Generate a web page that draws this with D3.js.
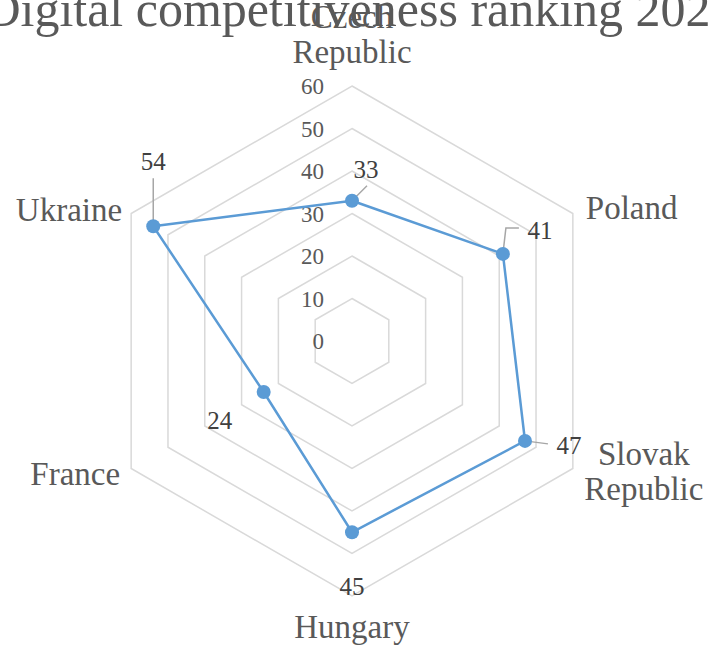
<!DOCTYPE html>
<html>
<head>
<meta charset="utf-8">
<script src="https://cdn.jsdelivr.net/npm/d3@7"></script>
<style>
  body { margin: 0; background: #fff; }
  svg text { font-family: "Liberation Serif", "DejaVu Serif", serif; }
</style>
</head>
<body>
<div id="chart"></div>
<script>
// chart data
var title = 'Digital competitiveness ranking 2021';
var categories = ['Czech Republic', 'Poland', 'Slovak Republic', 'Hungary', 'France', 'Ukraine'];
var values = [33, 41, 47, 45, 24, 54];
var ticks = [0, 10, 20, 30, 40, 50, 60];

var width = 709, height = 645;
var cx = 352, cy = 341;

// category label placement relative to outer vertex
var catLayout = [
    { lines: ['Czech', 'Republic'], anchor: 'middle', dx: 0, dy: -58 },
    { lines: ['Poland'], anchor: 'start', dx: 13, dy: 5 },
    { lines: ['Slovak', 'Republic'], anchor: 'middle', dx: 71, dy: -4 },
    { lines: ['Hungary'], anchor: 'middle', dx: 0, dy: 42 },
    { lines: ['France'], anchor: 'end', dx: -11, dy: 16 },
    { lines: ['Ukraine'], anchor: 'end', dx: -9, dy: 7 }
];
// data label placement relative to point, with optional leader line
var valLayout = [
    { dx: 14, dy: -32, leader: [[0, 0], [15, -15]] },
    { dx: 37, dy: -24, leader: [[0, 0], [3, -26], [16, -26]] },
    { dx: 44, dy: 4, leader: [[0, 0], [23, 3]] },
    { dx: 0, dy: 54, leader: null },
    { dx: -44, dy: 28, leader: null },
    { dx: 0, dy: -65, leader: [[0, 0], [0, -48]] }
];

var svg = d3.select('#chart').append('svg')
    .attr('width', width)
    .attr('height', height);

var r = d3.scaleLinear().domain([0, 60]).range([0, 255]);
var angle = d3.scaleLinear().domain([0, categories.length]).range([0, 2 * Math.PI]);

function pt(i, v) {
    var a = angle(i);
    return [cx + r(v) * Math.sin(a), cy - r(v) * Math.cos(a)];
}

// grid rings
var ring = d3.line();
svg.append('g').selectAll('path')
    .data(ticks.filter(function(t) { return t > 0; }))
    .enter().append('path')
    .attr('d', function(t) {
        return ring(categories.map(function(c, i) { return pt(i, t); })) + 'Z';
    })
    .attr('fill', 'none')
    .attr('stroke', '#d9d9d9')
    .attr('stroke-width', 1.5);

// title
svg.append('text')
    .attr('x', 360)
    .attr('y', 26)
    .attr('text-anchor', 'middle')
    .attr('font-size', 50)
    .attr('fill', '#595959')
    .text(title);

// tick labels
svg.append('g').selectAll('text')
    .data(ticks)
    .enter().append('text')
    .attr('x', cx - 28)
    .attr('y', function(t) { return cy - r(t); })
    .attr('dy', '0.35em')
    .attr('text-anchor', 'end')
    .attr('font-size', 23)
    .attr('fill', '#595959')
    .text(function(t) { return t; });

// category labels
categories.forEach(function(c, i) {
    var p = pt(i, 60), L = catLayout[i];
    var t = svg.append('text')
        .attr('text-anchor', L.anchor)
        .attr('font-size', 33)
        .attr('fill', '#595959');
    L.lines.forEach(function(line, k) {
        t.append('tspan')
            .attr('x', p[0] + L.dx)
            .attr('y', p[1] + L.dy + k * 35)
            .text(line);
    });
});

// leader lines
values.forEach(function(v, i) {
    var L = valLayout[i];
    if (!L.leader) return;
    var p = pt(i, v);
    svg.append('path')
        .attr('d', d3.line()(L.leader.map(function(o) { return [p[0] + o[0], p[1] + o[1]]; })))
        .attr('fill', 'none')
        .attr('stroke', '#a6a6a6')
        .attr('stroke-width', 1.5);
});

// series
svg.append('path')
    .attr('d', d3.line()(values.map(function(v, i) { return pt(i, v); })) + 'Z')
    .attr('fill', 'none')
    .attr('stroke', '#5b9bd5')
    .attr('stroke-width', 2.5);

svg.append('g').selectAll('circle')
    .data(values)
    .enter().append('circle')
    .attr('cx', function(v, i) { return pt(i, v)[0]; })
    .attr('cy', function(v, i) { return pt(i, v)[1]; })
    .attr('r', 7)
    .attr('fill', '#5b9bd5');

// data labels
svg.append('g').selectAll('text')
    .data(values)
    .enter().append('text')
    .attr('x', function(v, i) { return pt(i, v)[0] + valLayout[i].dx; })
    .attr('y', function(v, i) { return pt(i, v)[1] + valLayout[i].dy; })
    .attr('dy', '0.35em')
    .attr('text-anchor', 'middle')
    .attr('font-size', 25)
    .attr('fill', '#404040')
    .text(function(v) { return v; });
</script>
</body>
</html>
